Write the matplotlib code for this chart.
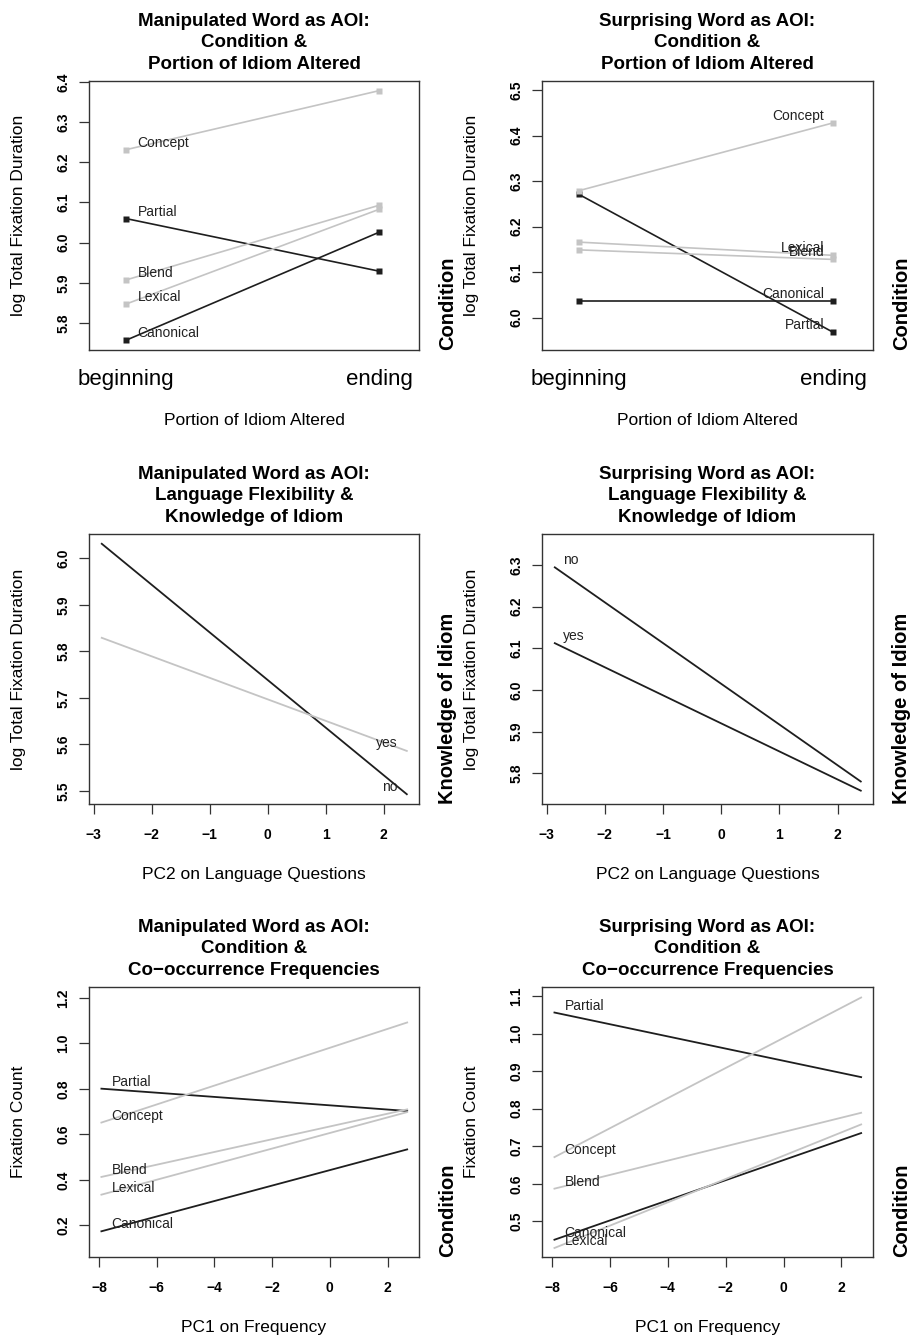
import numpy as np
import matplotlib
matplotlib.use('Agg')
import matplotlib.pyplot as plt
from matplotlib.ticker import FormatStrFormatter

plt.rcParams['font.family'] = ['Liberation Sans', 'DejaVu Sans']

# ---- data ----
conditions = ['Canonical', 'Partial', 'Lexical', 'Blend', 'Concept']
portion_levels = ['beginning', 'ending']

manip_portion_beg = [5.757, 6.060, 5.847, 5.907, 6.231]
manip_portion_end = [6.026, 5.929, 6.083, 6.093, 6.378]
surp_portion_beg = [6.037, 6.271, 6.166, 6.149, 6.279]
surp_portion_end = [6.037, 5.968, 6.137, 6.128, 6.428]

knowledge = ['no', 'yes']
pc2_range = [-2.86, 2.40]
manip_know_start = [6.031, 5.829]
manip_know_end = [5.493, 5.586]
surp_know_start = [6.294, 6.112]
surp_know_end = [5.780, 5.758]

pc1_range = [-7.92, 2.68]
manip_freq_start = [0.174, 0.801, 0.335, 0.413, 0.652]
manip_freq_end = [0.534, 0.703, 0.698, 0.710, 1.092]
surp_freq_start = [0.451, 1.056, 0.429, 0.587, 0.671]
surp_freq_end = [0.735, 0.884, 0.758, 0.789, 1.096]

# ---- styles ----
DARK = '#1e1e1e'
GREY = '#c4c4c4'
cond_colors = [DARK, DARK, GREY, GREY, GREY]

W, H = 913, 1340
fig = plt.figure(figsize=(W / 100, H / 100), dpi=100)

cols = [(89, 419), (542, 873)]
rows = [(81, 350), (534, 804), (987, 1257)]


def make_ax(c, r):
    left, right = cols[c]
    top, bottom = rows[r]
    return fig.add_axes([left / W, 1 - bottom / H, (right - left) / W, (bottom - top) / H])


def decorate(ax, title, xlabel, ylabel, rlabel):
    for s in ax.spines.values():
        s.set_color('#333333')
        s.set_linewidth(1.0)
    ax.annotate(title, xy=(0.5, 1), xycoords='axes fraction', xytext=(0, 6),
                textcoords='offset points', ha='center', va='bottom',
                fontsize=13.5, fontweight='bold', linespacing=1.33)
    ax.annotate(xlabel, xy=(0.5, 0), xycoords='axes fraction', xytext=(0, -54),
                textcoords='offset points', ha='center', va='baseline', fontsize=12.5)
    ax.annotate(ylabel, xy=(0, 0.5), xycoords='axes fraction', xytext=(-50.5, 0),
                textcoords='offset points', ha='center', va='center',
                rotation=90, fontsize=12.5)
    ax.annotate(rlabel, xy=(1, 0), xycoords='axes fraction', xytext=(20.5, 0),
                textcoords='offset points', ha='center', va='bottom',
                rotation=90, fontsize=14.5, fontweight='bold')
    ax.tick_params(axis='y', length=7.5, width=0.9, pad=6, labelsize=10,
                   color='#333333', labelrotation=90)
    ax.yaxis.set_major_formatter(FormatStrFormatter('%.1f'))
    for lbl in ax.get_yticklabels():
        lbl.set_va('center')
        lbl.set_fontweight('bold')


def portion_panel(ax, beg, end, label_side):
    for name, b, e, c in zip(conditions, beg, end, cond_colors):
        ax.plot([1, 2], [b, e], color=c, lw=1.2, zorder=2)
        ax.plot([1, 2], [b, e], 's', color=c, ms=5, mec='none', zorder=3)
        if label_side == 'left':
            ax.annotate(name, xy=(1, b), xytext=(8.6, 5), textcoords='offset points',
                        ha='left', va='center', fontsize=10, color='#222222')
        else:
            ax.annotate(name, xy=(2, e), xytext=(-6.5, 5), textcoords='offset points',
                        ha='right', va='center', fontsize=10, color='#222222')
    ax.set_xlim(0.855, 2.157)
    ax.set_xticks([1, 2])
    ax.set_xticklabels(portion_levels)
    ax.tick_params(axis='x', length=0, pad=13.5, labelsize=16)


# row 1
ax1 = make_ax(0, 0)
portion_panel(ax1, manip_portion_beg, manip_portion_end, 'left')
ax1.set_ylim(5.733, 6.402)
ax1.set_yticks(np.arange(5.8, 6.41, 0.1))
decorate(ax1, 'Manipulated Word as AOI:\nCondition &\nPortion of Idiom Altered',
         'Portion of Idiom Altered', 'log Total Fixation Duration', 'Condition')

ax2 = make_ax(1, 0)
portion_panel(ax2, surp_portion_beg, surp_portion_end, 'right')
ax2.set_ylim(5.929, 6.520)
ax2.set_yticks(np.arange(6.0, 6.51, 0.1))
decorate(ax2, 'Surprising Word as AOI:\nCondition &\nPortion of Idiom Altered',
         'Portion of Idiom Altered', 'log Total Fixation Duration', 'Condition')

# row 2
ax3 = make_ax(0, 1)
for name, s, e, c in zip(knowledge, manip_know_start, manip_know_end, [DARK, GREY]):
    ax3.plot(pc2_range, [s, e], color=c, lw=1.3)
    ax3.annotate(name, xy=(pc2_range[1], e), xytext=(-7, 5.5), textcoords='offset points',
                 ha='right', va='center', fontsize=10, color='#222222')
ax3.set_xlim(-3.08, 2.61)
ax3.set_ylim(5.472, 6.052)
ax3.set_yticks(np.arange(5.5, 6.01, 0.1))

ax4 = make_ax(1, 1)
for name, s, e in zip(knowledge, surp_know_start, surp_know_end):
    ax4.plot(pc2_range, [s, e], color=DARK, lw=1.3)
    ax4.annotate(name, xy=(pc2_range[0], s), xytext=(6, 5), textcoords='offset points',
                 ha='left', va='center', fontsize=10, color='#222222')
ax4.set_xlim(-3.08, 2.61)
ax4.set_ylim(5.726, 6.374)
ax4.set_yticks(np.arange(5.8, 6.31, 0.1))

for ax, who in [(ax3, 'Manipulated'), (ax4, 'Surprising')]:
    ax.set_xticks(np.arange(-3, 3, 1))
    ax.tick_params(axis='x', length=7.5, width=0.9, pad=10, labelsize=10, color='#333333')
    for lbl in ax.get_xticklabels():
        lbl.set_fontweight('bold')
    decorate(ax, who + ' Word as AOI:\nLanguage Flexibility &\nKnowledge of Idiom',
             'PC2 on Language Questions', 'log Total Fixation Duration', 'Knowledge of Idiom')

# row 3
ax5 = make_ax(0, 2)
ax6 = make_ax(1, 2)
for ax, st, en in [(ax5, manip_freq_start, manip_freq_end), (ax6, surp_freq_start, surp_freq_end)]:
    for name, s, e, c in zip(conditions, st, en, cond_colors):
        ax.plot(pc1_range, [s, e], color=c, lw=1.3)
        ax.annotate(name, xy=(pc1_range[0], s), xytext=(7.2, 5), textcoords='offset points',
                    ha='left', va='center', fontsize=10, color='#222222')
    ax.set_xlim(-8.35, 3.09)
    ax.set_xticks(np.arange(-8, 3, 2))
    ax.tick_params(axis='x', length=7.5, width=0.9, pad=10, labelsize=10, color='#333333')
    for lbl in ax.get_xticklabels():
        lbl.set_fontweight('bold')

ax5.set_ylim(0.061, 1.248)
ax5.set_yticks(np.arange(0.2, 1.21, 0.2))
ax6.set_ylim(0.405, 1.124)
ax6.set_yticks(np.arange(0.5, 1.11, 0.1))
decorate(ax5, 'Manipulated Word as AOI:\nCondition &\nCo\u2212occurrence Frequencies',
         'PC1 on Frequency', 'Fixation Count', 'Condition')
decorate(ax6, 'Surprising Word as AOI:\nCondition &\nCo\u2212occurrence Frequencies',
         'PC1 on Frequency', 'Fixation Count', 'Condition')

fig.savefig('out.png', dpi=100)
